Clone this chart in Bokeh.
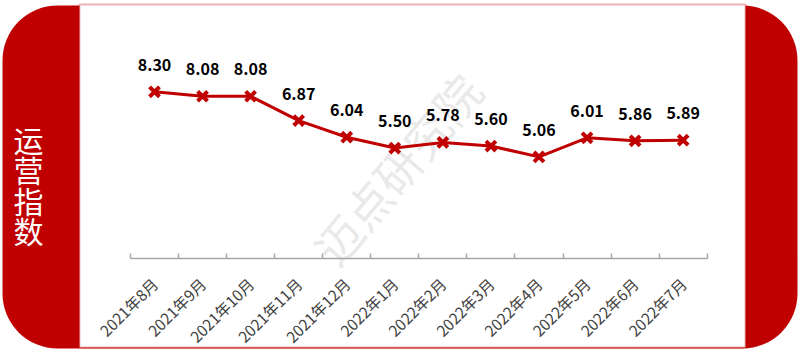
import math
from bokeh.plotting import figure
from bokeh.models import (ColumnDataSource, Range1d, FixedTicker, LinearAxis,
                          BoxAnnotation, Label)
from bokeh.core.properties import value
from bokeh.embed import file_html
from bokeh.resources import INLINE

# ---- data ----
categories = ["2021年8月", "2021年9月", "2021年10月", "2021年11月", "2021年12月",
              "2022年1月", "2022年2月", "2022年3月", "2022年4月", "2022年5月",
              "2022年6月", "2022年7月"]
index_values = [8.30, 8.08, 8.08, 6.87, 6.04, 5.50, 5.78, 5.60, 5.06, 6.01, 5.86, 5.89]
value_labels = ["%.2f" % v for v in index_values]
y_axis_title = "运营指数"
watermark = "迈点研究院"

RED = "#C00000"
CJK = "Noto Sans CJK SC"

W, H = 800, 351
# layout: pixel position of first category centre / zero line and scale
X0_PX, PX_PER_CAT = 154.0, 48.06
Y0_PX, PX_PER_UNIT = 258.0, 20.08

positions = list(range(len(categories)))
src = ColumnDataSource(dict(x=positions, y=index_values, label=value_labels))

p = figure(width=W, height=H, output_backend="svg", toolbar_location=None,
           x_range=Range1d(-X0_PX / PX_PER_CAT, (W - X0_PX) / PX_PER_CAT),
           y_range=Range1d(-(H - Y0_PX) / PX_PER_UNIT, Y0_PX / PX_PER_UNIT),
           x_axis_location=None, y_axis_location=None, min_border=0)
p.min_border_left = p.min_border_right = p.min_border_top = p.min_border_bottom = 0
p.background_fill_color = "white"
p.border_fill_color = "white"
p.outline_line_color = None
p.grid.visible = False

# ---- decorations (canvas units) ----
frame_red = BoxAnnotation(left=2, right=797, top=5, bottom=348,
                          left_units="canvas", right_units="canvas",
                          top_units="canvas", bottom_units="canvas",
                          fill_color=RED, fill_alpha=1.0, line_color=None,
                          border_radius=55, level="underlay")
panel = BoxAnnotation(left=79, right=745, top=4, bottom=347,
                      left_units="canvas", right_units="canvas",
                      top_units="canvas", bottom_units="canvas",
                      fill_color="white", fill_alpha=1.0, line_color=RED,
                      line_width=2, level="underlay")
p.add_layout(frame_red)
p.add_layout(panel)

wm = Label(x=396, y=168, x_units="canvas", y_units="canvas", text=watermark,
           angle=50, angle_units="deg", text_align="center", text_baseline="middle",
           text_font=CJK, text_font_size="46px", text_color="#e2e2e2",
           text_alpha=0.75, level="underlay")
p.add_layout(wm)

ttl = Label(x=28, y=184, x_units="canvas", y_units="canvas",
            text="\n".join(y_axis_title), text_align="center", text_baseline="middle",
            text_font=CJK, text_font_size="30px", text_color="white",
            text_line_height=0.69, level="overlay")
p.add_layout(ttl)

# ---- x axis (drawn at y = 0 inside the frame) ----
xa = LinearAxis(ticker=FixedTicker(ticks=positions,
                                   minor_ticks=[i - 0.5 for i in range(len(categories) + 1)]),
                fixed_location=0, bounds=(-0.5, len(categories) - 0.5))
xa.major_label_overrides = {i: c for i, c in enumerate(categories)}
xa.major_label_orientation = math.pi / 4
xa.major_label_text_font = CJK
xa.major_label_text_font_size = "15.5px"
xa.major_label_text_color = "#404040"
xa.major_label_standoff = 22
xa.axis_line_color = "#A6A6A6"
xa.axis_line_width = 1.5
xa.major_tick_in = 0
xa.major_tick_out = 0
xa.minor_tick_in = 5
xa.minor_tick_out = 0
xa.minor_tick_line_color = "#A6A6A6"
xa.minor_tick_line_width = 1.5
p.add_layout(xa, "below")

# ---- series ----
p.line("x", "y", source=src, line_color=RED, line_width=3)
p.scatter("x", "y", source=src, marker="x", size=14, line_color=RED, line_width=4)
p.text("x", "y", text="label", source=src, text_align="center", text_baseline="middle",
       y_offset=-27, text_font=value(CJK), text_font_style="bold",
       text_font_size="16px", text_color="black")

open("out.html", "w").write(file_html(p, INLINE))
